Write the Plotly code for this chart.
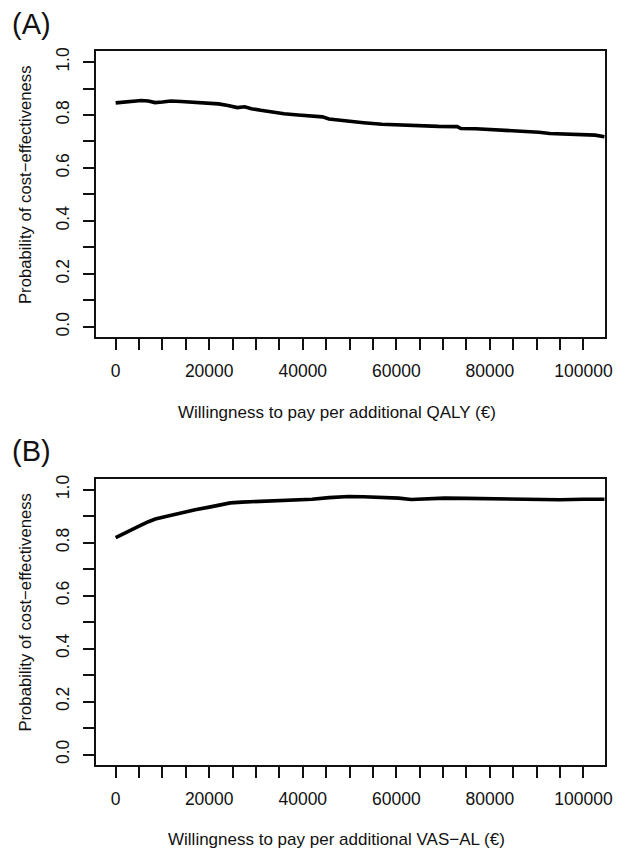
import plotly.graph_objects as go

# Panel A: willingness to pay per QALY
wtp_a = [0, 2000, 4000, 5500, 7000, 8400, 10000, 11800, 14000, 16000, 18000, 19600,
         22000, 24000, 26000, 27600, 29000, 31000, 33000, 36000, 39000, 42000, 44200,
         45600, 47500, 49800, 53000, 56900, 61000, 65300, 69000, 73000, 73800, 77000,
         80800, 84000, 87800, 90500, 92800, 96000, 100400, 102500, 104500]
prob_a = [0.846, 0.850, 0.853, 0.855, 0.853, 0.847, 0.849, 0.853, 0.851, 0.849, 0.847, 0.846,
          0.842, 0.836, 0.828, 0.831, 0.824, 0.818, 0.812, 0.805, 0.800, 0.796, 0.793,
          0.785, 0.781, 0.776, 0.771, 0.765, 0.762, 0.758, 0.757, 0.756, 0.749, 0.748,
          0.745, 0.741, 0.738, 0.735, 0.730, 0.729, 0.727, 0.724, 0.718]

# Panel B: willingness to pay per VAS-AL
wtp_b = [0, 1000, 2000, 3400, 5000, 7000, 8500, 10500, 12500, 14700, 17000, 20300, 22000,
         24500, 27000, 31600, 35000, 38600, 42000, 45600, 49800, 53000, 57600, 60500,
         63200, 66000, 70300, 75000, 80800, 85000, 90000, 94900, 100000, 104500]
prob_b = [0.819, 0.827, 0.836, 0.848, 0.862, 0.879, 0.889, 0.898, 0.907, 0.916, 0.924, 0.935, 0.941,
          0.950, 0.953, 0.956, 0.957, 0.960, 0.964, 0.970, 0.974, 0.973, 0.972, 0.968,
          0.963, 0.966, 0.968, 0.967, 0.965, 0.965, 0.964, 0.962, 0.964, 0.964]

x_ticks = list(range(0, 100001, 5000))
x_labels = [str(v) if v % 20000 == 0 else "" for v in x_ticks]
y_ticks = [i / 10 for i in range(11)]
y_labels = [f"{v:.1f}" if round(v * 10) % 2 == 0 else "" for v in y_ticks]

panel_labels = ["(A)", "(B)"]
x_titles = ["Willingness to pay per additional QALY (€)",
            "Willingness to pay per additional VAS\u2212AL (€)"]
y_title = "Probability of cost\u2212effectiveness"

W, H = 633, 851
FONT = "Liberation Sans, Arial, sans-serif"
INK = "#111"

fig = go.Figure()
fig.add_trace(go.Scatter(x=wtp_a, y=prob_a, mode="lines",
                         line=dict(color="black", width=3.6), xaxis="x", yaxis="y"))
fig.add_trace(go.Scatter(x=wtp_b, y=prob_b, mode="lines",
                         line=dict(color="black", width=3.6), xaxis="x2", yaxis="y2"))

xdom = [97.7 / W, 612.7 / W]
ydomA = [1 - 335 / H, 1 - 47.7 / H]
ydomB = [1 - 764.7 / H, 1 - 477.3 / H]

def xax(anchor):
    return dict(domain=xdom, anchor=anchor, range=[-4100, 104600],
                tickmode="array", tickvals=x_ticks, ticktext=x_labels,
                ticks="outside", ticklen=11, tickwidth=2, tickcolor=INK,
                showline=True, mirror=True, linecolor=INK, linewidth=2,
                showgrid=False, zeroline=False, ticklabelstandoff=6,
                tickfont=dict(family=FONT, size=17.5, color=INK))

def yax(anchor, dom):
    return dict(domain=dom, anchor=anchor, range=[-0.04, 1.04],
                tickmode="array", tickvals=y_ticks, ticktext=y_labels,
                ticks="outside", ticklen=11, tickwidth=2, tickcolor=INK,
                showline=True, mirror=True, linecolor=INK, linewidth=2,
                showgrid=False, zeroline=False, tickangle=-90, ticklabelstandoff=7,
                tickfont=dict(family=FONT, size=17.5, color=INK))

annotations = []
for lab, xt, dom in zip(panel_labels, x_titles, [ydomA, ydomB]):
    top = dom[1]
    bottom = dom[0]
    annotations.append(dict(text=lab, xref="paper", yref="paper", x=10 / W, y=top + 46 / H,
                            xanchor="left", yanchor="top", showarrow=False,
                            font=dict(family=FONT, size=29, color=INK)))
    annotations.append(dict(text=xt, xref="paper", yref="paper", x=341 / W,
                            y=bottom - 75 / H, xanchor="center", yanchor="middle",
                            showarrow=False, font=dict(family=FONT, size=17, color=INK)))
    annotations.append(dict(text=y_title, xref="paper", yref="paper", x=26 / W,
                            y=top - 133.5 / H, xanchor="center", yanchor="middle",
                            textangle=-90, showarrow=False,
                            font=dict(family=FONT, size=16.7, color=INK)))

fig.update_layout(
    width=W, height=H, margin=dict(l=0, r=0, t=0, b=0),
    paper_bgcolor="white", plot_bgcolor="white", showlegend=False,
    xaxis=xax("y"), yaxis=yax("x", ydomA),
    xaxis2=xax("y2"), yaxis2=yax("x2", ydomB),
    annotations=annotations,
)

fig.write_html("out.html", config={"displayModeBar": False},
               post_script="document.body.style.margin='0';")
